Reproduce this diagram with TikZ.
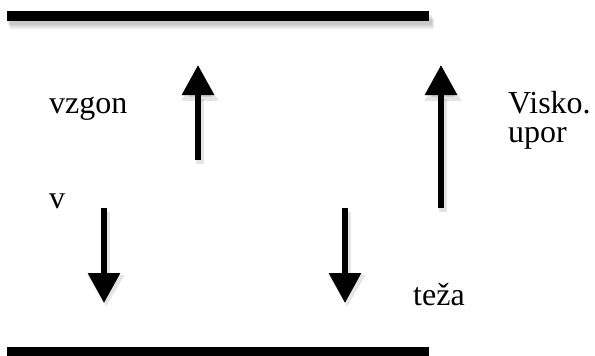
\documentclass[tikz,border=0pt]{standalone}
\usepackage{fontspec}
\setmainfont{Liberation Serif}
\usetikzlibrary{arrows.meta}
\begin{document}
\begin{tikzpicture}[x=1pt,y=-1pt,
  bar/.style={fill=black},
  barshadow/.style={fill=black,opacity=0.08},
  force/.style={line width=6pt,-{Triangle[length=30pt,width=31pt]}},
  forceshadow/.style={line width=8pt,draw=black,opacity=0.10,-{Triangle[length=32pt,width=35pt]}},
  lbl/.style={anchor=base west,inner sep=0pt,font=\fontsize{32}{38}\selectfont}]
\useasboundingbox (0,0) rectangle (595,356);
% bars with soft shadows
\foreach \d in {2,4,6}{
  \fill[barshadow] (7+\d/2,13+\d) rectangle (431+\d/2,23+\d);
}
\fill[bar] (7,11) rectangle (429,21);
\fill[bar] (7,347) rectangle (429,358);
% coordinates of forces
\coordinate (a1s) at (198,160); \coordinate (a1e) at (198,65);
\coordinate (a2s) at (104,208); \coordinate (a2e) at (104,303);
\coordinate (a3s) at (441,208); \coordinate (a3e) at (441,65);
\coordinate (a4s) at (345,208); \coordinate (a4e) at (345,303);
% shadows
\foreach \s/\e in {a1s/a1e,a2s/a2e,a3s/a3e,a4s/a4e}{
  \draw[forceshadow] ([shift={(2,4)}]\s) -- ([shift={(2,4)}]\e);
}
% arrows
\draw[force] (a1s) -- (a1e);
\draw[force] (a2s) -- (a2e);
\draw[force] (a3s) -- (a3e);
\draw[force] (a4s) -- (a4e);
% labels
\node[lbl] (vzgon) at (49,113) {vzgon};
\node[lbl] (v) at (49,208) {v};
\node[lbl] (visko) at (508,113) {Visko.};
\node[lbl] (upor) at (508,142) {upor};
\node[lbl] (teza) at (413,305) {teža};
\end{tikzpicture}
\end{document}
